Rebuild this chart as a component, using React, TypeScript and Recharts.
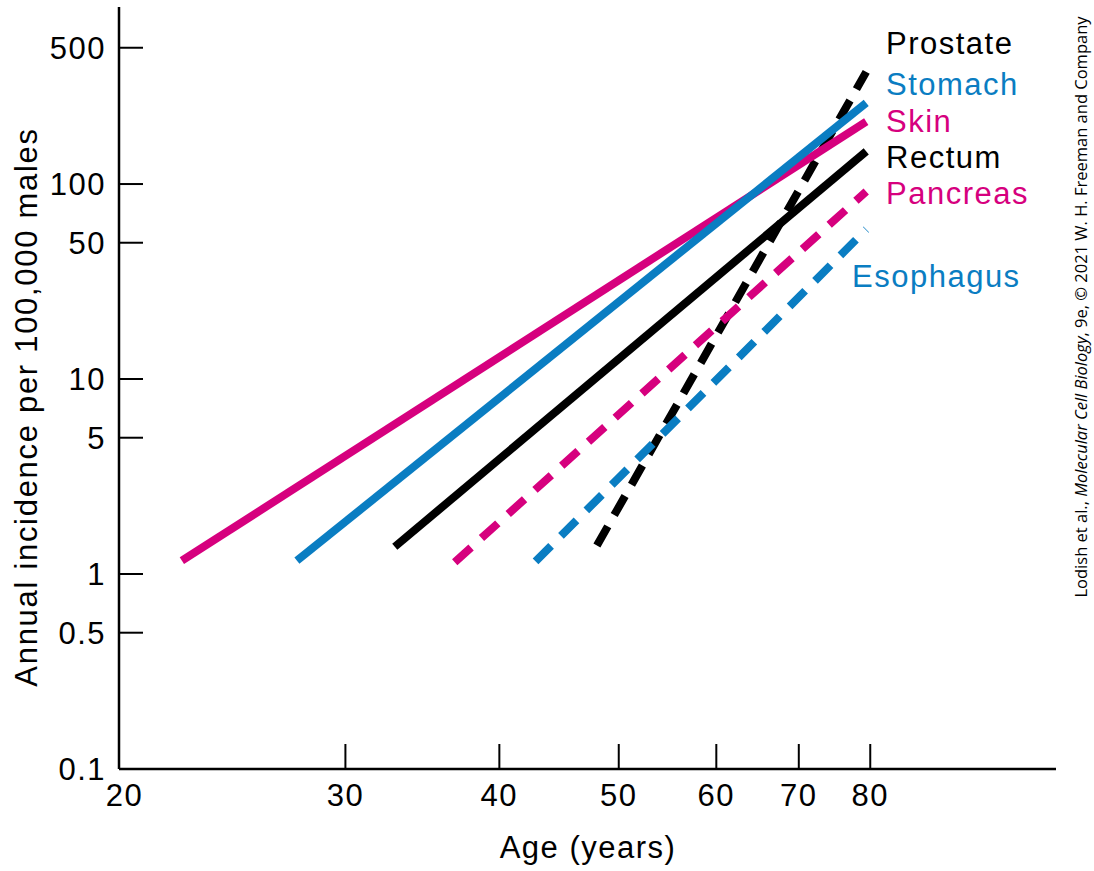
import React from "react";
import { LineChart, Line, XAxis, YAxis } from "recharts";

// age (years) vs annual incidence per 100,000 males
const skin = [
  { x: 22.1, y: 1.17 },
  { x: 79.4, y: 209 },
];
const stomach = [
  { x: 27.4, y: 1.17 },
  { x: 79.4, y: 261 },
];
const rectum = [
  { x: 32.9, y: 1.38 },
  { x: 79.4, y: 147 },
];
const pancreas = [
  { x: 36.8, y: 1.15 },
  { x: 79.4, y: 91.6 },
];
const esophagus = [
  { x: 42.8, y: 1.16 },
  { x: 79.4, y: 58.5 },
];
const prostate = [
  { x: 48.0, y: 1.4 },
  { x: 79.4, y: 376 },
];

const xTicks = [20, 30, 40, 50, 60, 70, 80];
const yTicks = [0.1, 0.5, 1, 5, 10, 50, 100, 500];

const MAGENTA = "#d6007e";
const BLUE = "#0a7dc2";
const BLACK = "#000000";
const FONT = "'Liberation Sans', Arial, sans-serif";

const labelStyle: React.CSSProperties = {
  position: "absolute",
  fontFamily: FONT,
  fontSize: 31,
  lineHeight: "31px",
  letterSpacing: 1.5,
  whiteSpace: "nowrap",
};

const seriesLabels = [
  { text: "Prostate", color: BLACK, left: 886, cy: 43 },
  { text: "Stomach", color: BLUE, left: 886, cy: 84 },
  { text: "Skin", color: MAGENTA, left: 886, cy: 121 },
  { text: "Rectum", color: BLACK, left: 886, cy: 157 },
  { text: "Pancreas", color: MAGENTA, left: 886, cy: 193 },
  { text: "Esophagus", color: BLUE, left: 852, cy: 276 },
];

const YTick = (props: any) => {
  const { x, y, payload } = props;
  return (
    <g>
      <line x1={x} x2={x + 24} y1={y} y2={y} stroke="#000" strokeWidth={2} />
      <text
        x={x - 13}
        y={y}
        dy="0.36em"
        textAnchor="end"
        fontFamily={FONT}
        fontSize={31}
        letterSpacing={1.5}
        fill="#000"
      >
        {String(payload.value)}
      </text>
    </g>
  );
};

const XTick = (props: any) => {
  const { x, y, payload, index } = props;
  return (
    <g>
      {/* the first tick sits at the corner, no mark there */}
      {index > 0 && (
        <line x1={x} x2={x} y1={y} y2={y - 25} stroke="#000" strokeWidth={2} />
      )}
      <text
        x={x - (index === 0 ? 4 : 0)}
        y={y + 26}
        dy="0.36em"
        textAnchor="middle"
        fontFamily={FONT}
        fontSize={31}
        letterSpacing={1.5}
        fill="#000"
      >
        {String(payload.value)}
      </text>
    </g>
  );
};

export default function App() {
  return (
    <div
      style={{
        position: "absolute",
        left: 0,
        top: 0,
        width: 1094,
        height: 871,
        background: "#fff",
      }}
    >
      <LineChart
        width={1094}
        height={871}
        margin={{ top: 7, right: 38, bottom: 0, left: 0 }}
      >
        <XAxis
          type="number"
          dataKey="x"
          scale="log"
          domain={[19.65, 113.2]}
          ticks={xTicks}
          allowDataOverflow
          height={102}
          axisLine={{ stroke: "#000", strokeWidth: 2.5 }}
          tickLine={false}
          tickSize={0}
          tickMargin={0}
          tick={XTick}
          interval={0}
        />
        <YAxis
          type="number"
          dataKey="y"
          scale="log"
          domain={[0.1, 809]}
          ticks={yTicks}
          allowDataOverflow
          width={119}
          axisLine={{ stroke: "#000", strokeWidth: 2.5 }}
          tickLine={false}
          tickSize={0}
          tickMargin={0}
          tick={YTick}
          interval={0}
        />
        <Line
          data={prostate}
          dataKey="y"
          stroke={BLACK}
          strokeWidth={8}
          strokeDasharray="22 13"
          dot={false}
          type="linear"
          isAnimationActive={false}
        />
        <Line
          data={rectum}
          dataKey="y"
          stroke={BLACK}
          strokeWidth={8}
          dot={false}
          type="linear"
          isAnimationActive={false}
        />
        <Line
          data={pancreas}
          dataKey="y"
          stroke={MAGENTA}
          strokeWidth={8}
          strokeDasharray="22 14"
          dot={false}
          type="linear"
          isAnimationActive={false}
        />
        <Line
          data={esophagus}
          dataKey="y"
          stroke={BLUE}
          strokeWidth={8}
          strokeDasharray="22 14"
          dot={false}
          type="linear"
          isAnimationActive={false}
        />
        <Line
          data={skin}
          dataKey="y"
          stroke={MAGENTA}
          strokeWidth={8}
          dot={false}
          type="linear"
          isAnimationActive={false}
        />
        <Line
          data={stomach}
          dataKey="y"
          stroke={BLUE}
          strokeWidth={8}
          dot={false}
          type="linear"
          isAnimationActive={false}
        />
      </LineChart>

      {seriesLabels.map((l) => (
        <div
          key={l.text}
          style={{ ...labelStyle, color: l.color, left: l.left, top: l.cy - 15 }}
        >
          {l.text}
        </div>
      ))}

      <div
        style={{
          ...labelStyle,
          left: 588,
          top: 847,
          transform: "translate(-50%, -50%)",
        }}
      >
        Age (years)
      </div>

      <div
        style={{
          ...labelStyle,
          left: 26,
          top: 407,
          transform: "translate(-50%, -50%) rotate(-90deg)",
          letterSpacing: 1.7,
        }}
      >
        Annual incidence per 100,000 males
      </div>

      <div
        style={{
          position: "absolute",
          left: 1081,
          top: 307,
          transform: "translate(-50%, -50%) rotate(-90deg)",
          fontFamily: "'Open Sans', 'Noto Sans', sans-serif",
          fontSize: 16.5,
          lineHeight: "18px",
          whiteSpace: "nowrap",
          color: "#000",
        }}
      >
        Lodish et al., <i>Molecular Cell Biology</i>, 9e, © 2021 W. H. Freeman and Company
      </div>
    </div>
  );
}
